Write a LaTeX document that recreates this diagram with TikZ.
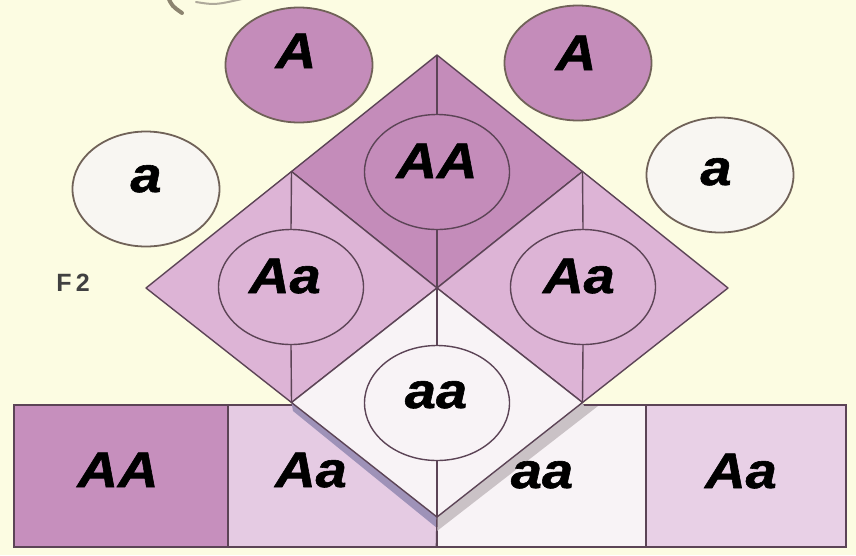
\documentclass[tikz,border=0pt]{standalone}
\usepackage{fontspec}
\setmainfont{Liberation Sans}
\newfontfamily\labf[FakeStretch=1.12, FakeBold=1.2]{Liberation Sans}
\usetikzlibrary{shapes.geometric}
\definecolor{bg}{RGB}{252,252,226}
\definecolor{mauveD}{RGB}{196,140,186}
\definecolor{mauveR}{RGB}{198,143,189}
\definecolor{pinkC}{RGB}{221,180,214}
\definecolor{pinkR}{RGB}{229,203,227}
\definecolor{whiteC}{RGB}{248,243,246}
\definecolor{whiteG}{RGB}{248,246,242}
\definecolor{ln}{RGB}{92,68,86}
\definecolor{gl}{RGB}{112,98,88}
\definecolor{shadL}{RGB}{158,146,184}
\definecolor{shadR}{RGB}{202,194,198}
\definecolor{frag}{RGB}{140,132,112}
\tikzset{
  cellshape/.style={draw=ln, line width=1.4pt, line join=round},
  incircle/.style={ellipse, draw=ln, line width=1.4pt, minimum width=145pt, minimum height=115pt, inner sep=0pt},
  gamete/.style={ellipse, draw=gl, line width=1.8pt, minimum width=147pt, minimum height=115pt, inner sep=0pt},
  boxr/.style={rectangle, draw=ln, line width=1.3pt, inner sep=0pt, minimum height=142pt},
  lab/.style={anchor=base, inner sep=0pt, font=\labf\fontsize{50}{54}\selectfont\bfseries\itshape},
  vline/.style={draw=ln, line width=1.4pt},
}
\begin{document}
\begin{tikzpicture}[x=1pt,y=-1pt]
\useasboundingbox (0,0) rectangle (856,555);
\fill[bg] (0,0) rectangle (856,555);
% fragment at top-left
\draw[frag, line width=4pt, line cap=round] (168,-3) .. controls (172,6) .. (182,13);
\draw[frag!70, line width=2pt, line cap=round] (196,2) .. controls (215,5) .. (242,-1);
% bottom rectangles
\node[boxr, fill=mauveR, minimum width=214pt] (r1) at (121,476) {};
\node[boxr, fill=pinkR, minimum width=209pt] (r2) at (332.5,476) {};
\node[boxr, fill=whiteC, minimum width=209pt] (r3) at (541.5,476) {};
\node[boxr, fill=pinkR!90!white, minimum width=200pt] (r4) at (746,476) {};
% diamond vertices
\coordinate (T) at (437,55);
\coordinate (L) at (146,288);
\coordinate (R) at (728,288);
\coordinate (B) at (437,517);
\coordinate (C) at (437,288);
\coordinate (TL) at (291.5,171.5);
\coordinate (TR) at (582.5,171.5);
\coordinate (BL) at (291.5,402.5);
\coordinate (BR) at (582.5,402.5);
% shadows under the aa cell
\fill[shadL] (BL) -- (B) -- (437,528) -- (293,411) -- cycle;
\fill[shadR] (BR) -- (B) -- (437,531) -- (598,406) -- (584,406) -- cycle;
% cells
\filldraw[cellshape, fill=mauveD] (T) -- (TR) -- (C) -- (TL) -- cycle;
\filldraw[cellshape, fill=pinkC] (TL) -- (C) -- (BL) -- (L) -- cycle;
\filldraw[cellshape, fill=pinkC] (TR) -- (R) -- (BR) -- (C) -- cycle;
\filldraw[cellshape, fill=whiteC] (C) -- (BR) -- (B) -- (BL) -- cycle;
% circles in cells
\node[incircle, fill=mauveD] (cAA) at (437,172) {};
\node[incircle, fill=pinkC] (cAaL) at (291,287) {};
\node[incircle, fill=pinkC] (cAaR) at (583,287) {};
\node[incircle, fill=whiteC] (caa) at (437,403) {};
% vertical lines
\draw[vline] (T) -- (cAA.north);
\draw[vline] (cAA.south) -- (C);
\draw[vline] (TL) -- (cAaL.north);
\draw[vline] (cAaL.south) -- (BL);
\draw[vline] (TR) -- (cAaR.north);
\draw[vline] (cAaR.south) -- (BR);
\draw[vline] (C) -- (caa.north);
\draw[vline] (caa.south) -- (B);
\draw[vline] (B) -- (r3.south west);
% gametes
\node[gamete, fill=mauveD] (gA1) at (299,65) {};
\node[gamete, fill=mauveD] (gA2) at (578,63) {};
\node[gamete, fill=whiteG] (ga1) at (146,189) {};
\node[gamete, fill=whiteG] (ga2) at (720,175) {};
% labels
\node[lab] (tA1) at (296,68) {A};
\node[lab] (tA2) at (576,70) {A};
\node[lab] (ta1) at (146,192) {a};
\node[lab] (ta2) at (716,185) {a};
\node[lab] (tAA) at (437,178) {AA};
\node[lab] (tAaL) at (285,293) {Aa};
\node[lab] (tAaR) at (579,293) {Aa};
\node[lab] (taa) at (436,408) {aa};
\node[lab] (b1) at (118,487) {AA};
\node[lab] (b2) at (311,487) {Aa};
\node[lab] (b3) at (542,488) {aa};
\node[lab] (b4) at (741,488) {Aa};
\node[anchor=base, inner sep=0pt, text=black!75, font=\fontsize{25}{28}\selectfont\bfseries] (f2) at (73,291) {F\,2};
\end{tikzpicture}
\end{document}
